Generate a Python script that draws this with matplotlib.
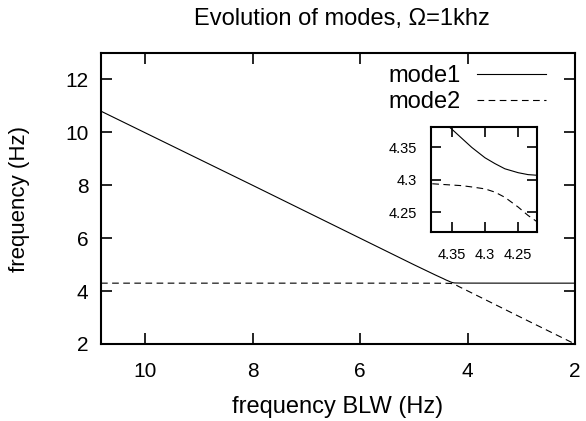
import matplotlib
matplotlib.use("Agg")
import matplotlib.pyplot as plt

plt.rcParams['font.family'] = ['Liberation Sans', 'DejaVu Sans']

# data
blw = [10.82, 8.0, 6.0, 5.0, 4.6, 4.45, 4.40, 4.381, 4.351, 4.335, 4.32,
       4.30, 4.285, 4.27, 4.25, 4.235, 4.221, 4.15, 4.0, 3.0, 2.0]
mode1 = [10.80, 8.0, 6.0, 5.0, 4.61, 4.47, 4.42, 4.404, 4.379, 4.364, 4.350,
         4.334, 4.325, 4.317, 4.311, 4.308, 4.307, 4.304, 4.302, 4.30, 4.30]
mode2 = [4.30, 4.30, 4.30, 4.299, 4.298, 4.296, 4.295, 4.294, 4.292, 4.291,
         4.289, 4.286, 4.281, 4.273, 4.258, 4.245, 4.235, 4.16, 4.01, 3.0, 2.0]

main_xticks = [10, 8, 6, 4, 2]
main_yticks = [2, 4, 6, 8, 10, 12]
inset_ticks = [4.35, 4.3, 4.25]
inset_ticklabels = ['4.35', '4.3', '4.25']

fig = plt.figure(figsize=(5.86, 4.21), dpi=100)
ax = fig.add_axes([0.1724, 0.1829, 0.8088, 0.6912])

ax.plot(blw, mode1, color='black', lw=0.8, label='mode1')
ax.plot(blw, mode2, color='black', lw=0.8, linestyle=(0, (6, 4)), label='mode2')
ax.set_xlim(10.82, 2)
ax.set_ylim(2, 13)
ax.set_xticks(main_xticks)
ax.set_yticks(main_yticks)
ax.tick_params(direction='in', length=8, width=1.2, top=True, right=True,
               labelsize=15, pad=9)
ax.tick_params(axis='x', pad=13)
for s in ax.spines.values():
    s.set_linewidth(1.5)
ax.set_xlabel('frequency BLW (Hz)', fontsize=17, labelpad=11)
ax.set_ylabel('frequency (Hz)', fontsize=16, labelpad=25)
fig.suptitle('Evolution of modes, Ω=1khz', fontsize=17, x=0.583, y=0.98)

leg = ax.legend(loc='upper right', frameon=False, markerfirst=False,
                fontsize=17, handlelength=2.9, handletextpad=0.7,
                labelspacing=0.17, borderaxespad=0.0,
                bbox_to_anchor=(0.958, 0.99))

ins = fig.add_axes([0.7355, 0.4497, 0.1809, 0.2487])
ins.plot(blw, mode1, color='black', lw=0.8)
ins.plot(blw, mode2, color='black', lw=0.8, linestyle=(0, (6, 4)))
ins.set_xlim(4.3815, 4.2215)
ins.set_ylim(4.22, 4.3815)
ins.set_xticks(inset_ticks)
ins.set_xticklabels(inset_ticklabels)
ins.set_yticks(inset_ticks)
ins.set_yticklabels(inset_ticklabels)
ins.tick_params(direction='in', length=7.5, width=1.2, top=True, right=True,
                labelsize=10.5, pad=10)
ins.tick_params(axis='x', pad=12)
for s in ins.spines.values():
    s.set_linewidth(1.5)

fig.savefig('out.png', dpi=100)
